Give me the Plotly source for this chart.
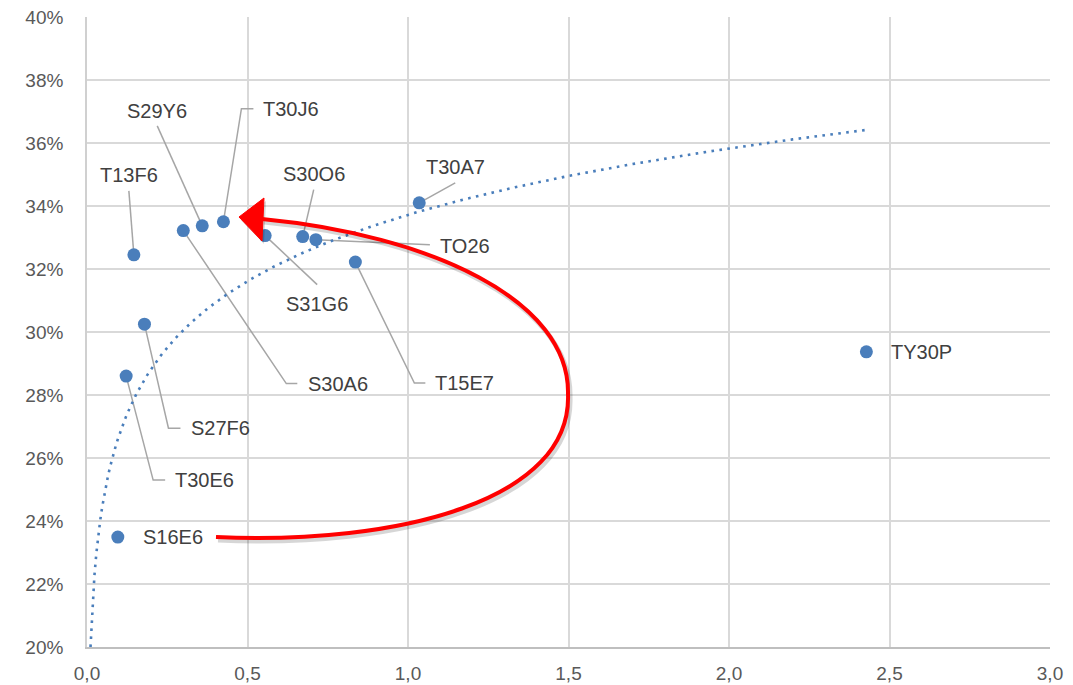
import numpy as np
import plotly.graph_objects as go

# ---------------- data ----------------
names = ["S16E6", "T30E6", "S27F6", "T13F6", "S30A6", "S29Y6", "T30J6",
         "S31G6", "S30O6", "TO26", "T15E7", "T30A7", "TY30P"]
x_vals = [0.096, 0.122, 0.179, 0.146, 0.300, 0.359, 0.425,
          0.555, 0.672, 0.713, 0.836, 1.035, 2.428]
y_vals = [0.2349, 0.2860, 0.3025, 0.3245, 0.3322, 0.3337, 0.3350,
          0.3306, 0.3303, 0.3293, 0.3222, 0.3410, 0.2937]

# logarithmic trendline y = a*ln(x) + b (as shown in the chart)
trend_a = 0.0304
trend_b = 0.3372

x_ticks = [0.0, 0.5, 1.0, 1.5, 2.0, 2.5, 3.0]
y_ticks = [0.20, 0.22, 0.24, 0.26, 0.28, 0.30, 0.32, 0.34, 0.36, 0.38, 0.40]

# ---------------- styling / label placement ----------------
OFF = 8                      # default page body margin
W, H = 1073 - OFF, 685 - OFF
PL, PT, PR, PB = 87 - OFF, 17 - OFF, 23, 38
PW, PH = W - PL - PR, H - PT - PB

BLUE = "#4a7ebb"
LEADER = "#a6a6a6"
LABEL_COLOR = "#404040"
TICK_COLOR = "#595959"
FONT = "Liberation Sans, Arial, sans-serif"

# leader polyline (screen px, y down, relative to marker) and text offset/anchor
label_style = {
    "S16E6": dict(leader=[], text=(23, 0), anchor="left"),
    "T30E6": dict(leader=[(27, 104), (39, 104)], text=(47, 104), anchor="left"),
    "S27F6": dict(leader=[(24, 104), (36, 104)], text=(45, 104), anchor="left"),
    "T13F6": dict(leader=[(-5, -64)], text=(-5, -80), anchor="center"),
    "S30A6": dict(leader=[(103, 153), (114, 153)], text=(123, 153), anchor="left"),
    "S29Y6": dict(leader=[(-45, -100)], text=(-45, -115), anchor="center"),
    "T30J6": dict(leader=[(18, -113), (30, -113)], text=(38, -113), anchor="left"),
    "S31G6": dict(leader=[(52, 49)], text=(52, 68), anchor="center"),
    "S30O6": dict(leader=[(11, -47)], text=(11, -63), anchor="center"),
    "TO26":  dict(leader=[(114, 5)], text=(122, 6), anchor="left"),
    "T15E7": dict(leader=[(59, 121), (70, 121)], text=(78, 121), anchor="left"),
    "T30A7": dict(leader=[(36, -20)], text=(36, -36), anchor="center"),
    "TY30P": dict(leader=[], text=(23, 0), anchor="left"),
}

fig = go.Figure()

# trendline
x_min = float(np.exp((y_ticks[0] - trend_b) / trend_a))
x_t = np.linspace(x_min, max(x_vals), 400)
y_t = trend_a * np.log(x_t) + trend_b
fig.add_trace(go.Scatter(
    x=x_t, y=y_t, mode="lines",
    line=dict(color=BLUE, width=2.6, dash="2.6px,5.4px"),
    hoverinfo="skip", showlegend=False))

# points
fig.add_trace(go.Scatter(
    x=x_vals, y=y_vals, mode="markers", text=names,
    marker=dict(color=BLUE, size=13),
    hovertemplate="%{text}<br>%{x}<br>%{y}<extra></extra>",
    showlegend=False))

shapes = []
annotations = []
for nm, xv, yv in zip(names, x_vals, y_vals):
    st = label_style[nm]
    if st["leader"]:
        path = "M 0 0 " + " ".join(f"L {dx} {-dy}" for dx, dy in st["leader"])
        shapes.append(dict(
            type="path", xref="x", yref="y",
            xsizemode="pixel", ysizemode="pixel",
            xanchor=xv, yanchor=yv, path=path,
            line=dict(color=LEADER, width=1.5), layer="between"))
    tx, ty = st["text"]
    annotations.append(dict(
        x=xv, y=yv, xref="x", yref="y", text=nm, showarrow=False,
        xshift=tx, yshift=-ty, xanchor=st["anchor"], yanchor="middle",
        font=dict(family=FONT, size=20, color=LABEL_COLOR)))


# ---------------- red curved arrow (decoration, page px -> paper) ----------------
def px(xp, yp):
    return (xp - OFF - PL) / PW, (PT + PH - (yp - OFF)) / PH


def path_from(cmds):
    out = []
    for c in cmds:
        if isinstance(c, str):
            out.append(c)
        else:
            a, b = px(*c)
            out.append(f"{a:.5f},{b:.5f}")
    return " ".join(out)


shaft = ["M", (216, 537), "C", (400, 545), (572, 500), (568, 394),
         "C", (570, 300), (430, 235), (262, 219)]
head = ["M", (239, 217), "L", (264, 198), "L", (262, 241), "Z"]


def shifted(cmds, dx, dy):
    return [c if isinstance(c, str) else (c[0] + dx, c[1] + dy) for c in cmds]


shapes.append(dict(type="path", xref="paper", yref="paper",
                   path=path_from(shifted(shaft, 2, 3)),
                   line=dict(color="rgba(0,0,0,0.16)", width=5), layer="above"))
shapes.append(dict(type="path", xref="paper", yref="paper",
                   path=path_from(shifted(head, 2, 3)),
                   fillcolor="rgba(0,0,0,0.16)", line=dict(width=0), layer="above"))
shapes.append(dict(type="path", xref="paper", yref="paper",
                   path=path_from(shaft),
                   line=dict(color="#ff0000", width=4), layer="above"))
shapes.append(dict(type="path", xref="paper", yref="paper",
                   path=path_from(head),
                   fillcolor="#ff0000", line=dict(color="#ff0000", width=1), layer="above"))

fig.update_layout(
    width=W, height=H, autosize=False,
    margin=dict(l=PL, r=PR, t=PT, b=PB, autoexpand=False),
    paper_bgcolor="white", plot_bgcolor="white",
    separators=",.",
    font=dict(family=FONT, size=19, color=TICK_COLOR),
    shapes=shapes, annotations=annotations,
    showlegend=False,
)
fig.update_xaxes(
    range=[0, 3.0], tickvals=x_ticks, tickformat=".1f",
    showgrid=True, gridcolor="#d9d9d9", gridwidth=1.6,
    showline=True, linecolor="#bfbfbf", linewidth=1.6,
    zeroline=False, ticks="", ticklabelstandoff=8, automargin=False,
    ticklabeloverflow="allow",
    tickfont=dict(family=FONT, size=19, color=TICK_COLOR))
fig.update_yaxes(
    range=[0.20, 0.40], tickvals=y_ticks, tickformat=".0%",
    showgrid=True, gridcolor="#d9d9d9", gridwidth=1.6,
    showline=True, linecolor="#d0d0d0", linewidth=1.6,
    zeroline=False, ticks="", ticklabelstandoff=18, automargin=False,
    ticklabeloverflow="allow",
    tickfont=dict(family=FONT, size=19, color=TICK_COLOR))

fig.write_html("out.html")
